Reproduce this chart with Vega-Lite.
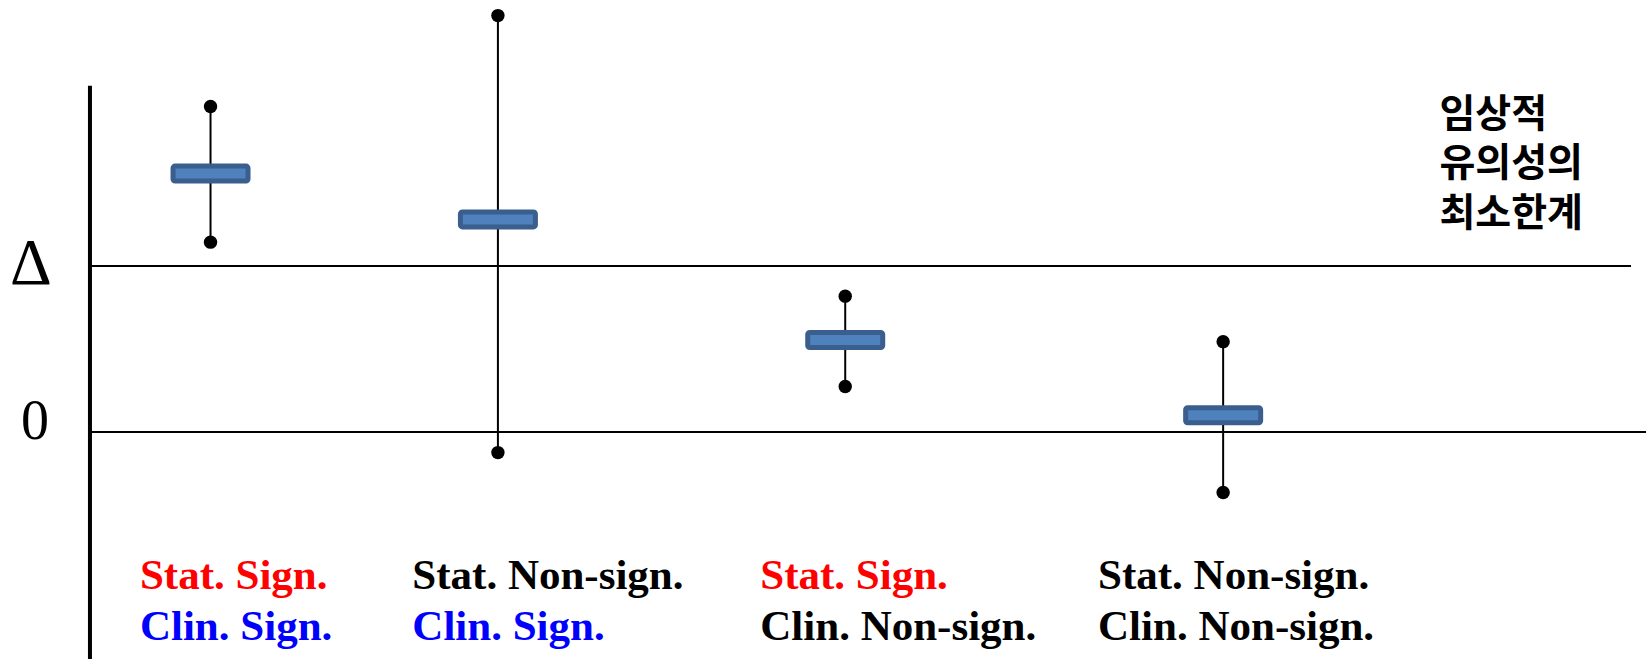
{
  "$schema": "https://vega.github.io/schema/vega-lite/v6.json",
  "width": 1647,
  "height": 661,
  "autosize": {"type": "fit", "contains": "padding"},
  "padding": 0,
  "background": "white",
  "config": {"view": {"stroke": null}},
  "datasets": {
    "intervals": [
      {"group": "Stat. Sign. / Clin. Sign.", "x": 12.79, "lower": 1.143, "estimate": 1.556, "upper": 1.960},
      {"group": "Stat. Non-sign. / Clin. Sign.", "x": 30.25, "lower": -0.124, "estimate": 1.280, "upper": 2.507},
      {"group": "Stat. Sign. / Clin. Non-sign.", "x": 51.35, "lower": 0.274, "estimate": 0.554, "upper": 0.818},
      {"group": "Stat. Non-sign. / Clin. Non-sign.", "x": 74.31, "lower": -0.364, "estimate": 0.101, "upper": 0.544}
    ],
    "refs": [
      {"name": "Δ", "y": 1, "x": 5.465, "x2": 99.09},
      {"name": "0", "y": 0, "x": 5.465, "x2": 100}
    ],
    "vaxis": [
      {"x": 5.465, "y": 2.085, "y2": -1.3665}
    ],
    "labels": [
      {"label": "Stat. Sign.", "x": 8.5, "y": -0.947},
      {"label": "Clin. Sign.", "x": 8.5, "y": -1.253},
      {"label": "Stat. Non-sign.", "x": 25.05, "y": -0.947},
      {"label": "Clin. Sign.", "x": 25.05, "y": -1.253},
      {"label": "Stat. Sign.", "x": 46.19, "y": -0.947},
      {"label": "Clin. Non-sign.", "x": 46.19, "y": -1.253},
      {"label": "Stat. Non-sign.", "x": 66.71, "y": -0.947},
      {"label": "Clin. Non-sign.", "x": 66.71, "y": -1.253}
    ],
    "delta": [{"label": "Δ", "x": 1.88, "y": 1}],
    "zero": [{"label": "0", "x": 2.13, "y": 0}],
    "note": [
      {"label": "임상적", "x": 87.45, "y": 1.8385},
      {"label": "유의성의", "x": 87.45, "y": 1.5385},
      {"label": "최소한계", "x": 87.45, "y": 1.2385}
    ]
  },
  "layer": [
    {
      "data": {"name": "refs"},
      "mark": {"type": "rule", "color": "black", "strokeWidth": 2},
      "encoding": {
        "x": {"field": "x", "type": "quantitative", "scale": {"domain": [0, 100], "nice": false, "zero": false}, "axis": null},
        "x2": {"field": "x2"},
        "y": {"field": "y", "type": "quantitative", "scale": {"domain": [-1.3665, 2.6009], "nice": false, "zero": false}, "axis": null}
      }
    },
    {
      "data": {"name": "vaxis"},
      "mark": {"type": "rule", "color": "black", "strokeWidth": 4},
      "encoding": {
        "x": {"field": "x", "type": "quantitative", "scale": {"domain": [0, 100], "nice": false, "zero": false}, "axis": null},
        "y": {"field": "y", "type": "quantitative", "scale": {"domain": [-1.3665, 2.6009], "nice": false, "zero": false}, "axis": null},
        "y2": {"field": "y2"}
      }
    },
    {
      "data": {"name": "intervals"},
      "mark": {"type": "rule", "color": "black", "strokeWidth": 2},
      "encoding": {
        "x": {"field": "x", "type": "quantitative", "scale": {"domain": [0, 100], "nice": false, "zero": false}, "axis": null},
        "y": {"field": "lower", "type": "quantitative", "scale": {"domain": [-1.3665, 2.6009], "nice": false, "zero": false}, "axis": null},
        "y2": {"field": "upper"}
      }
    },
    {
      "data": {"name": "intervals"},
      "transform": [{"fold": ["lower", "upper"], "as": ["bound", "value"]}],
      "mark": {"type": "point", "shape": "circle", "filled": true, "color": "black", "size": 180, "opacity": 1},
      "encoding": {
        "x": {"field": "x", "type": "quantitative", "scale": {"domain": [0, 100], "nice": false, "zero": false}, "axis": null},
        "y": {"field": "value", "type": "quantitative", "scale": {"domain": [-1.3665, 2.6009], "nice": false, "zero": false}, "axis": null}
      }
    },
    {
      "data": {"name": "intervals"},
      "mark": {"type": "tick", "orient": "horizontal", "size": 75, "thickness": 15, "fill": "#4f81bd", "stroke": "#3a5f8f", "strokeWidth": 5, "cornerRadius": 2, "opacity": 1},
      "encoding": {
        "x": {"field": "x", "type": "quantitative", "scale": {"domain": [0, 100], "nice": false, "zero": false}, "axis": null},
        "y": {"field": "estimate", "type": "quantitative", "scale": {"domain": [-1.3665, 2.6009], "nice": false, "zero": false}, "axis": null}
      }
    },
    {
      "data": {"name": "labels"},
      "mark": {"type": "text", "align": "left", "baseline": "alphabetic", "font": "Liberation Serif", "fontWeight": "bold", "fontSize": 43},
      "encoding": {
        "x": {"field": "x", "type": "quantitative", "scale": {"domain": [0, 100], "nice": false, "zero": false}, "axis": null},
        "y": {"field": "y", "type": "quantitative", "scale": {"domain": [-1.3665, 2.6009], "nice": false, "zero": false}, "axis": null},
        "text": {"field": "label"},
        "color": {"field": "label", "type": "nominal", "legend": null, "scale": {"domain": ["Stat. Sign.", "Clin. Sign.", "Stat. Non-sign.", "Clin. Non-sign."], "range": ["#ff0000", "#0000ff", "#000000", "#000000"]}}
      }
    },
    {
      "data": {"name": "delta"},
      "mark": {"type": "text", "align": "center", "baseline": "alphabetic", "dy": 18, "font": "Liberation Serif", "fontSize": 65, "color": "black"},
      "encoding": {
        "x": {"field": "x", "type": "quantitative", "scale": {"domain": [0, 100], "nice": false, "zero": false}, "axis": null},
        "y": {"field": "y", "type": "quantitative", "scale": {"domain": [-1.3665, 2.6009], "nice": false, "zero": false}, "axis": null},
        "text": {"field": "label"}
      }
    },
    {
      "data": {"name": "zero"},
      "mark": {"type": "text", "align": "center", "baseline": "alphabetic", "dy": 7, "font": "Liberation Serif", "fontSize": 56, "color": "black"},
      "encoding": {
        "x": {"field": "x", "type": "quantitative", "scale": {"domain": [0, 100], "nice": false, "zero": false}, "axis": null},
        "y": {"field": "y", "type": "quantitative", "scale": {"domain": [-1.3665, 2.6009], "nice": false, "zero": false}, "axis": null},
        "text": {"field": "label"}
      }
    },
    {
      "data": {"name": "note"},
      "mark": {"type": "text", "align": "left", "baseline": "alphabetic", "font": "Noto Sans CJK KR", "fontWeight": "bold", "fontSize": 39, "color": "black"},
      "encoding": {
        "x": {"field": "x", "type": "quantitative", "scale": {"domain": [0, 100], "nice": false, "zero": false}, "axis": null},
        "y": {"field": "y", "type": "quantitative", "scale": {"domain": [-1.3665, 2.6009], "nice": false, "zero": false}, "axis": null},
        "text": {"field": "label"}
      }
    }
  ]
}
